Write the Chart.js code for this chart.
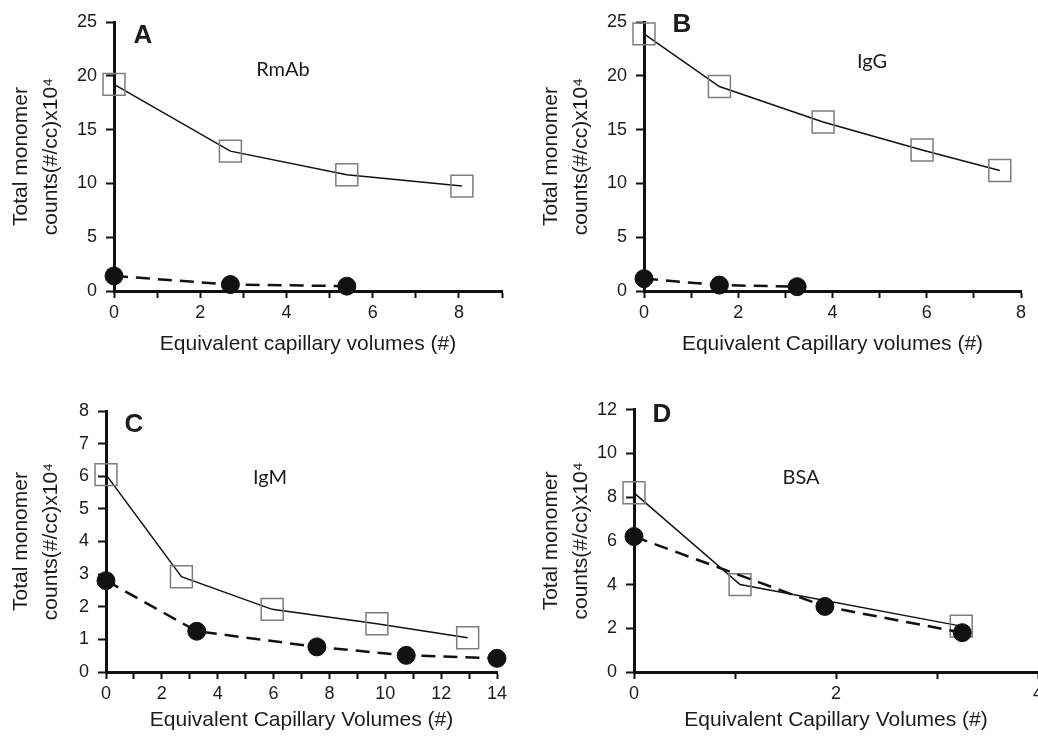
<!DOCTYPE html>
<html>
<head>
<meta charset="utf-8">
<script src="https://cdn.jsdelivr.net/npm/chart.js@4.4.1/dist/chart.umd.min.js"></script>
<style>
  html, body { margin: 0; padding: 0; background: #fff; }
  body { position: relative; width: 1038px; height: 738px; overflow: hidden; }
  canvas { position: absolute; }
</style>
</head>
<body>
<canvas id="panelA"></canvas>
<canvas id="panelB"></canvas>
<canvas id="panelC"></canvas>
<canvas id="panelD"></canvas>
<script>
// A - RmAb
const rmabOpenX = [0, 2.7, 5.4, 8.07];
const rmabOpenY = [19.2, 13.0, 10.8, 9.75];
const rmabFilledX = [0, 2.7, 5.4];
const rmabFilledY = [1.4, 0.6, 0.45];
const rmabXTicks = [0, 1, 2, 3, 4, 5, 6, 7, 8, 9];
const rmabXLabels = [0, 2, 4, 6, 8];
const rmabYTicks = [0, 5, 10, 15, 20, 25];

// B - IgG
const iggOpenX = [0, 1.6, 3.8, 5.9, 7.55];
const iggOpenY = [23.9, 19.0, 15.7, 13.1, 11.2];
const iggFilledX = [0, 1.6, 3.25];
const iggFilledY = [1.15, 0.55, 0.4];
const iggXTicks = [0, 1, 2, 3, 4, 5, 6, 7, 8];
const iggXLabels = [0, 2, 4, 6, 8];
const iggYTicks = [0, 5, 10, 15, 20, 25];

// C - IgM
const igmOpenX = [0, 2.7, 5.95, 9.7, 12.95];
const igmOpenY = [6.05, 2.92, 1.92, 1.48, 1.05];
const igmFilledX = [0, 3.25, 7.55, 10.75, 14];
const igmFilledY = [2.8, 1.25, 0.77, 0.51, 0.42];
const igmXTicks = [0, 1, 2, 3, 4, 5, 6, 7, 8, 9, 10, 11, 12, 13, 14];
const igmXLabels = [0, 2, 4, 6, 8, 10, 12, 14];
const igmYTicks = [0, 1, 2, 3, 4, 5, 6, 7, 8];

// D - BSA
const bsaOpenX = [0, 1.05, 3.24];
const bsaOpenY = [8.2, 4.0, 2.1];
const bsaFilledX = [0, 1.89, 3.25];
const bsaFilledY = [6.2, 3.0, 1.8];
const bsaXTicks = [0, 1, 2, 3, 4];
const bsaXLabels = [0, 2, 4];
const bsaYTicks = [0, 2, 4, 6, 8, 10, 12];

const yTitle = ['Total monomer', 'counts(#/cc)x10\u2074'];
const FONT = '"Liberation Sans", Arial, Helvetica, sans-serif';
const INK = '#1c1c1c';

const panels = [
  { id: 'panelA', letter: 'A', name: 'RmAb',
    openX: rmabOpenX, openY: rmabOpenY, filledX: rmabFilledX, filledY: rmabFilledY,
    xTicks: rmabXTicks, xLabels: rmabXLabels, yTicks: rmabYTicks,
    xTitle: 'Equivalent capillary volumes (#)',
    frame: { x: 0, y: 0, w: 519, h: 357 }, area: { l: 114, t: 22, r: 502, b: 291 },
    xTitleY: 344, yTitleX: 21.7, letterPos: [143, 36], namePos: [283, 70] },
  { id: 'panelB', letter: 'B', name: 'IgG',
    openX: iggOpenX, openY: iggOpenY, filledX: iggFilledX, filledY: iggFilledY,
    xTicks: iggXTicks, xLabels: iggXLabels, yTicks: iggYTicks,
    xTitle: 'Equivalent Capillary volumes (#)',
    frame: { x: 520, y: 0, w: 518, h: 357 }, area: { l: 644, t: 22, r: 1030, b: 291 },
    xTitleY: 344, yTitleX: 551.7, letterPos: [682, 25], namePos: [872, 62] },
  { id: 'panelC', letter: 'C', name: 'IgM',
    openX: igmOpenX, openY: igmOpenY, filledX: igmFilledX, filledY: igmFilledY,
    xTicks: igmXTicks, xLabels: igmXLabels, yTicks: igmYTicks,
    xTitle: 'Equivalent Capillary Volumes (#)',
    frame: { x: 0, y: 390, w: 519, h: 348 }, area: { l: 106, t: 411, r: 497, b: 672 },
    xTitleY: 720, yTitleX: 21.7, letterPos: [134, 425], namePos: [270, 478] },
  { id: 'panelD', letter: 'D', name: 'BSA',
    openX: bsaOpenX, openY: bsaOpenY, filledX: bsaFilledX, filledY: bsaFilledY,
    xTicks: bsaXTicks, xLabels: bsaXLabels, yTicks: bsaYTicks,
    xTitle: 'Equivalent Capillary Volumes (#)',
    frame: { x: 520, y: 390, w: 540, h: 348 }, area: { l: 634, t: 400, r: 1038, b: 672 },
    xTitleY: 720, yTitleX: 551.7, letterPos: [662, 415], namePos: [801, 478] }
];

// panel letter and protein name drawn on the canvas
const panelText = {
  id: 'panelText',
  afterDraw(chart, args, opts) {
    const ctx = chart.ctx;
    ctx.save();
    ctx.fillStyle = INK;
    ctx.textAlign = 'center';
    ctx.textBaseline = 'middle';
    ctx.font = 'bold 26px ' + FONT;
    ctx.fillText(opts.letter, opts.letterX, opts.letterY);
    ctx.font = '20px Lato, "Open Sans", sans-serif';
    ctx.fillText(opts.name, opts.nameX, opts.nameY);
    ctx.restore();
  }
};

function pts(xs, ys) {
  return xs.map((x, i) => ({ x: x, y: ys[i] }));
}

function build(p) {
  const f = p.frame, a = p.area;
  const cv = document.getElementById(p.id);
  cv.width = f.w;
  cv.height = f.h;
  cv.style.left = f.x + 'px';
  cv.style.top = f.y + 'px';

  const tickFont = { family: FONT, size: 18 };
  const titleFont = { family: FONT, size: 21 };

  new Chart(cv, {
    type: 'scatter',
    data: {
      datasets: [
        {
          data: pts(p.filledX, p.filledY),
          showLine: true,
          borderColor: '#111',
          borderWidth: 2.5,
          borderDash: [14, 8],
          pointStyle: 'circle',
          pointRadius: 9,
          pointBackgroundColor: '#111',
          pointBorderColor: '#111',
          pointBorderWidth: 1,
          clip: false
        },
        {
          data: pts(p.openX, p.openY),
          showLine: true,
          borderColor: '#111',
          borderWidth: 1.5,
          pointStyle: 'rect',
          pointRadius: 15.5,
          pointBackgroundColor: 'rgba(0,0,0,0)',
          pointBorderColor: '#7d7d7d',
          pointBorderWidth: 1.5,
          clip: false
        }
      ]
    },
    options: {
      responsive: false,
      animation: false,
      devicePixelRatio: 1,
      layout: { padding: { top: a.t - f.y, right: f.x + f.w - a.r, bottom: 0, left: 0 } },
      plugins: {
        legend: { display: false },
        tooltip: { enabled: false },
        panelText: {
          letter: p.letter, letterX: p.letterPos[0] - f.x, letterY: p.letterPos[1] - f.y,
          name: p.name, nameX: p.namePos[0] - f.x, nameY: p.namePos[1] - f.y
        }
      },
      scales: {
        x: {
          type: 'linear',
          min: p.xTicks[0],
          max: p.xTicks[p.xTicks.length - 1],
          afterBuildTicks: s => { s.ticks = p.xTicks.map(v => ({ value: v })); },
          afterFit: s => { s.height = f.y + f.h - a.b; },
          ticks: {
            autoSkip: false,
            maxRotation: 0,
            padding: 4,
            color: INK,
            font: tickFont,
            callback: v => p.xLabels.includes(v) ? String(v) : ''
          },
          grid: { drawOnChartArea: false, drawTicks: true, tickLength: 7, tickWidth: 2, tickColor: '#111' },
          border: { display: true, color: '#111', width: 3 },
          title: {
            display: true,
            text: p.xTitle,
            color: INK,
            font: Object.assign({ lineHeight: '25px' }, titleFont),
            padding: { top: 0, bottom: f.y + f.h - p.xTitleY - 12.5 }
          }
        },
        y: {
          type: 'linear',
          min: p.yTicks[0],
          max: p.yTicks[p.yTicks.length - 1],
          afterBuildTicks: s => { s.ticks = p.yTicks.map(v => ({ value: v })); },
          afterFit: s => { s.width = a.l - f.x; },
          ticks: { autoSkip: false, padding: 9, color: INK, font: tickFont },
          grid: { drawOnChartArea: false, drawTicks: true, tickLength: 8, tickWidth: 2, tickColor: '#111' },
          border: { display: true, color: '#111', width: 3 },
          title: {
            display: true,
            text: yTitle,
            color: INK,
            font: Object.assign({ lineHeight: '30px' }, titleFont),
            padding: { top: p.yTitleX - f.x - 15, bottom: 0 }
          }
        }
      }
    },
    plugins: [panelText]
  });
}

panels.forEach(build);
</script>
</body>
</html>
